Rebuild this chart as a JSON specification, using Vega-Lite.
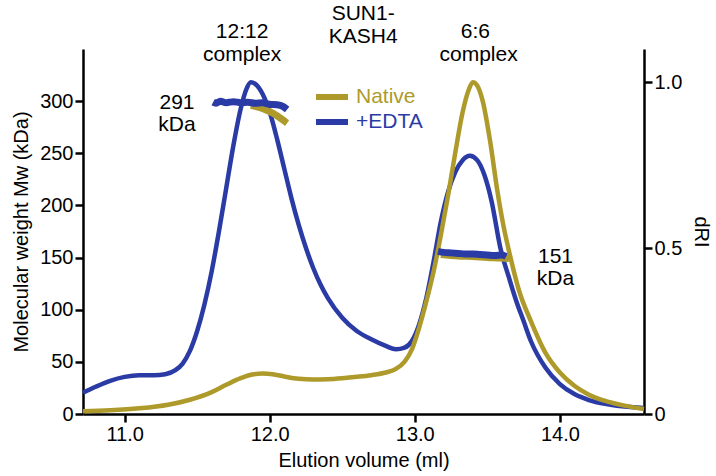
{
  "$schema": "https://vega.github.io/schema/vega-lite/v6.json",
  "width": 561,
  "height": 365,
  "autosize": {"type": "none"},
  "padding": {"left": 83, "top": 49, "right": 72, "bottom": 62},
  "config": {
    "font": "Liberation Sans",
    "view": {"stroke": null},
    "axis": {
      "grid": false,
      "domainColor": "black",
      "domainWidth": 2.5,
      "tickColor": "black",
      "tickWidth": 2.5,
      "tickSize": 8,
      "labelFontSize": 20,
      "titleFontSize": 20,
      "labelColor": "black",
      "titleColor": "black",
      "titleFontWeight": "normal",
      "labelPadding": 2,
      "labelFont": "Liberation Sans",
      "titleFont": "Liberation Sans"
    }
  },
  "datasets": {
    "dri": [
      {"vol": 10.713, "dri": 0.064, "series": "+EDTA"},
      {"vol": 10.8, "dri": 0.082, "series": "+EDTA"},
      {"vol": 10.9, "dri": 0.1, "series": "+EDTA"},
      {"vol": 11.0, "dri": 0.112, "series": "+EDTA"},
      {"vol": 11.1, "dri": 0.117, "series": "+EDTA"},
      {"vol": 11.2, "dri": 0.117, "series": "+EDTA"},
      {"vol": 11.28, "dri": 0.12, "series": "+EDTA"},
      {"vol": 11.35, "dri": 0.132, "series": "+EDTA"},
      {"vol": 11.4, "dri": 0.152, "series": "+EDTA"},
      {"vol": 11.45, "dri": 0.19, "series": "+EDTA"},
      {"vol": 11.5, "dri": 0.25, "series": "+EDTA"},
      {"vol": 11.55, "dri": 0.33, "series": "+EDTA"},
      {"vol": 11.6, "dri": 0.43, "series": "+EDTA"},
      {"vol": 11.65, "dri": 0.55, "series": "+EDTA"},
      {"vol": 11.7, "dri": 0.68, "series": "+EDTA"},
      {"vol": 11.75, "dri": 0.81, "series": "+EDTA"},
      {"vol": 11.8, "dri": 0.92, "series": "+EDTA"},
      {"vol": 11.84, "dri": 0.98, "series": "+EDTA"},
      {"vol": 11.87, "dri": 1.0, "series": "+EDTA"},
      {"vol": 11.9, "dri": 0.995, "series": "+EDTA"},
      {"vol": 11.95, "dri": 0.965, "series": "+EDTA"},
      {"vol": 12.0, "dri": 0.91, "series": "+EDTA"},
      {"vol": 12.05, "dri": 0.83, "series": "+EDTA"},
      {"vol": 12.1, "dri": 0.74, "series": "+EDTA"},
      {"vol": 12.15, "dri": 0.65, "series": "+EDTA"},
      {"vol": 12.2, "dri": 0.57, "series": "+EDTA"},
      {"vol": 12.25, "dri": 0.5, "series": "+EDTA"},
      {"vol": 12.3, "dri": 0.44, "series": "+EDTA"},
      {"vol": 12.35, "dri": 0.39, "series": "+EDTA"},
      {"vol": 12.4, "dri": 0.35, "series": "+EDTA"},
      {"vol": 12.5, "dri": 0.29, "series": "+EDTA"},
      {"vol": 12.6, "dri": 0.25, "series": "+EDTA"},
      {"vol": 12.7, "dri": 0.225, "series": "+EDTA"},
      {"vol": 12.8, "dri": 0.205, "series": "+EDTA"},
      {"vol": 12.87, "dri": 0.195, "series": "+EDTA"},
      {"vol": 12.93, "dri": 0.2, "series": "+EDTA"},
      {"vol": 12.98, "dri": 0.22, "series": "+EDTA"},
      {"vol": 13.03, "dri": 0.27, "series": "+EDTA"},
      {"vol": 13.08, "dri": 0.35, "series": "+EDTA"},
      {"vol": 13.13, "dri": 0.46, "series": "+EDTA"},
      {"vol": 13.18, "dri": 0.58, "series": "+EDTA"},
      {"vol": 13.23, "dri": 0.67, "series": "+EDTA"},
      {"vol": 13.28, "dri": 0.73, "series": "+EDTA"},
      {"vol": 13.33, "dri": 0.765, "series": "+EDTA"},
      {"vol": 13.38, "dri": 0.778, "series": "+EDTA"},
      {"vol": 13.43, "dri": 0.765, "series": "+EDTA"},
      {"vol": 13.48, "dri": 0.72, "series": "+EDTA"},
      {"vol": 13.53, "dri": 0.64, "series": "+EDTA"},
      {"vol": 13.59, "dri": 0.5, "series": "+EDTA"},
      {"vol": 13.65, "dri": 0.41, "series": "+EDTA"},
      {"vol": 13.7, "dri": 0.34, "series": "+EDTA"},
      {"vol": 13.75, "dri": 0.28, "series": "+EDTA"},
      {"vol": 13.8, "dri": 0.22, "series": "+EDTA"},
      {"vol": 13.9, "dri": 0.14, "series": "+EDTA"},
      {"vol": 14.0, "dri": 0.09, "series": "+EDTA"},
      {"vol": 14.1, "dri": 0.06, "series": "+EDTA"},
      {"vol": 14.2, "dri": 0.042, "series": "+EDTA"},
      {"vol": 14.35, "dri": 0.028, "series": "+EDTA"},
      {"vol": 14.58, "dri": 0.018, "series": "+EDTA"},
      {"vol": 10.713, "dri": 0.008, "series": "Native"},
      {"vol": 10.9, "dri": 0.011, "series": "Native"},
      {"vol": 11.1, "dri": 0.017, "series": "Native"},
      {"vol": 11.3, "dri": 0.028, "series": "Native"},
      {"vol": 11.45, "dri": 0.043, "series": "Native"},
      {"vol": 11.6, "dri": 0.066, "series": "Native"},
      {"vol": 11.7, "dri": 0.088, "series": "Native"},
      {"vol": 11.8, "dri": 0.108, "series": "Native"},
      {"vol": 11.88, "dri": 0.119, "series": "Native"},
      {"vol": 11.95, "dri": 0.122, "series": "Native"},
      {"vol": 12.02, "dri": 0.12, "series": "Native"},
      {"vol": 12.1, "dri": 0.113, "series": "Native"},
      {"vol": 12.2, "dri": 0.106, "series": "Native"},
      {"vol": 12.3, "dri": 0.104, "series": "Native"},
      {"vol": 12.4, "dri": 0.105, "series": "Native"},
      {"vol": 12.5, "dri": 0.108, "series": "Native"},
      {"vol": 12.6, "dri": 0.112, "series": "Native"},
      {"vol": 12.7, "dri": 0.117, "series": "Native"},
      {"vol": 12.8, "dri": 0.125, "series": "Native"},
      {"vol": 12.87, "dri": 0.136, "series": "Native"},
      {"vol": 12.93, "dri": 0.158, "series": "Native"},
      {"vol": 12.98, "dri": 0.195, "series": "Native"},
      {"vol": 13.03, "dri": 0.26, "series": "Native"},
      {"vol": 13.08, "dri": 0.34, "series": "Native"},
      {"vol": 13.13, "dri": 0.43, "series": "Native"},
      {"vol": 13.18, "dri": 0.54, "series": "Native"},
      {"vol": 13.23, "dri": 0.66, "series": "Native"},
      {"vol": 13.28, "dri": 0.79, "series": "Native"},
      {"vol": 13.33, "dri": 0.91, "series": "Native"},
      {"vol": 13.37, "dri": 0.975, "series": "Native"},
      {"vol": 13.4, "dri": 1.0, "series": "Native"},
      {"vol": 13.43, "dri": 0.99, "series": "Native"},
      {"vol": 13.47, "dri": 0.94, "series": "Native"},
      {"vol": 13.52, "dri": 0.82, "series": "Native"},
      {"vol": 13.57, "dri": 0.67, "series": "Native"},
      {"vol": 13.61, "dri": 0.57, "series": "Native"},
      {"vol": 13.65, "dri": 0.49, "series": "Native"},
      {"vol": 13.72, "dri": 0.37, "series": "Native"},
      {"vol": 13.8, "dri": 0.28, "series": "Native"},
      {"vol": 13.9, "dri": 0.185, "series": "Native"},
      {"vol": 14.0, "dri": 0.125, "series": "Native"},
      {"vol": 14.1, "dri": 0.085, "series": "Native"},
      {"vol": 14.2, "dri": 0.058, "series": "Native"},
      {"vol": 14.35, "dri": 0.035, "series": "Native"},
      {"vol": 14.58, "dri": 0.015, "series": "Native"}
    ],
    "mw": [
      {"vol": 11.87, "mw": 296, "series": "Native", "peak": "a"},
      {"vol": 11.95, "mw": 293, "series": "Native", "peak": "a"},
      {"vol": 12.0, "mw": 290, "series": "Native", "peak": "a"},
      {"vol": 12.05, "mw": 286, "series": "Native", "peak": "a"},
      {"vol": 12.1, "mw": 281, "series": "Native", "peak": "a"},
      {"vol": 12.12, "mw": 279, "series": "Native", "peak": "a"},
      {"vol": 13.18, "mw": 153, "series": "Native", "peak": "b"},
      {"vol": 13.3, "mw": 151.5, "series": "Native", "peak": "b"},
      {"vol": 13.4, "mw": 151, "series": "Native", "peak": "b"},
      {"vol": 13.5, "mw": 150, "series": "Native", "peak": "b"},
      {"vol": 13.6, "mw": 149.5, "series": "Native", "peak": "b"},
      {"vol": 13.65, "mw": 149, "series": "Native", "peak": "b"},
      {"vol": 11.61, "mw": 299, "series": "+EDTA", "peak": "a"},
      {"vol": 11.63, "mw": 298, "series": "+EDTA", "peak": "a"},
      {"vol": 11.66, "mw": 300, "series": "+EDTA", "peak": "a"},
      {"vol": 11.7, "mw": 298.5, "series": "+EDTA", "peak": "a"},
      {"vol": 11.75, "mw": 299.5, "series": "+EDTA", "peak": "a"},
      {"vol": 11.8, "mw": 298.5, "series": "+EDTA", "peak": "a"},
      {"vol": 11.85, "mw": 299, "series": "+EDTA", "peak": "a"},
      {"vol": 11.9, "mw": 298, "series": "+EDTA", "peak": "a"},
      {"vol": 11.95, "mw": 298.5, "series": "+EDTA", "peak": "a"},
      {"vol": 12.0, "mw": 297, "series": "+EDTA", "peak": "a"},
      {"vol": 12.05, "mw": 296.5, "series": "+EDTA", "peak": "a"},
      {"vol": 12.09, "mw": 295, "series": "+EDTA", "peak": "a"},
      {"vol": 12.12, "mw": 292, "series": "+EDTA", "peak": "a"},
      {"vol": 13.16, "mw": 156, "series": "+EDTA", "peak": "b"},
      {"vol": 13.2, "mw": 155, "series": "+EDTA", "peak": "b"},
      {"vol": 13.25, "mw": 154.5, "series": "+EDTA", "peak": "b"},
      {"vol": 13.3, "mw": 154, "series": "+EDTA", "peak": "b"},
      {"vol": 13.35, "mw": 153.5, "series": "+EDTA", "peak": "b"},
      {"vol": 13.4, "mw": 153.5, "series": "+EDTA", "peak": "b"},
      {"vol": 13.45, "mw": 153, "series": "+EDTA", "peak": "b"},
      {"vol": 13.5, "mw": 152.5, "series": "+EDTA", "peak": "b"},
      {"vol": 13.55, "mw": 152, "series": "+EDTA", "peak": "b"},
      {"vol": 13.6, "mw": 152.5, "series": "+EDTA", "peak": "b"},
      {"vol": 13.63, "mw": 151, "series": "+EDTA", "peak": "b"}
    ],
    "notes": [
      {"vol": 11.81, "mw": 360.2, "label": "12:12"},
      {"vol": 11.81, "mw": 338.4, "label": "complex"},
      {"vol": 12.644, "mw": 377.8, "label": "SUN1-"},
      {"vol": 12.644, "mw": 355.4, "label": "KASH4"},
      {"vol": 13.418, "mw": 360.2, "label": "6:6"},
      {"vol": 13.44, "mw": 338.4, "label": "complex"},
      {"vol": 11.361, "mw": 292.1, "label": "291"},
      {"vol": 11.361, "mw": 271.6, "label": "kDa"},
      {"vol": 13.97, "mw": 144.5, "label": "151"},
      {"vol": 13.97, "mw": 123.7, "label": "kDa"}
    ]
  },
  "layer": [
    {
      "data": {"name": "dri"},
      "mark": {"type": "line", "strokeWidth": 4.5, "interpolate": "monotone"},
      "encoding": {
        "x": {"field": "vol", "type": "quantitative", "title": "Elution volume (ml)",
              "scale": {"domain": [10.713, 14.58], "nice": false, "zero": false},
              "axis": {"values": [11, 12, 13, 14], "format": ".1f", "titlePadding": 6}},
        "y": {"field": "dri", "type": "quantitative", "title": "dRI",
              "scale": {"domain": [0, 1.1], "nice": false},
              "axis": {"orient": "right", "values": [0, 0.5, 1.0], "labelExpr": "datum.value == 0 ? '0' : format(datum.value, '.1f')", "titlePadding": 9}},
        "color": {"field": "series", "type": "nominal",
                  "scale": {"domain": ["Native", "+EDTA"], "range": ["#ad9a2b", "#2b3ba5"]},
                  "legend": {"title": null, "orient": "none", "legendX": 230, "legendY": 37,
                             "symbolType": "M-1,0H3", "symbolSize": 256, "symbolStrokeWidth": 6,
                             "labelFontSize": 21, "labelOffset": 21, "rowPadding": 1, "padding": 0,
                             "labelFont": "Liberation Sans",
                             "encode": {"labels": {"update": {"fill": {"signal": "datum.value === 'Native' ? '#ad9a2b' : '#2b3ba5'"}}}}}},
        "order": {"field": "vol", "type": "quantitative"}
      }
    },
    {
      "layer": [
        {
          "data": {"name": "mw"},
          "mark": {"type": "line", "strokeWidth": 7, "interpolate": "monotone"},
          "encoding": {
            "x": {"field": "vol", "type": "quantitative", "title": "Elution volume (ml)",
                  "scale": {"domain": [10.713, 14.58], "nice": false, "zero": false},
                  "axis": {"values": [11, 12, 13, 14], "format": ".1f", "titlePadding": 6}},
            "y": {"field": "mw", "type": "quantitative", "title": "Molecular weight Mw (kDa)",
                  "scale": {"domain": [0, 350], "nice": false},
                  "axis": {"orient": "left", "values": [0, 50, 100, 150, 200, 250, 300], "format": "d", "titlePadding": 8}},
            "color": {"field": "series", "type": "nominal",
                      "scale": {"domain": ["Native", "+EDTA"], "range": ["#ad9a2b", "#2b3ba5"]},
                      "legend": {"title": null, "orient": "none", "legendX": 230, "legendY": 37,
                                 "symbolType": "M-1,0H3", "symbolSize": 256, "symbolStrokeWidth": 6,
                                 "labelFontSize": 21, "labelOffset": 21, "rowPadding": 1, "padding": 0,
                                 "labelFont": "Liberation Sans",
                                 "encode": {"labels": {"update": {"fill": {"signal": "datum.value === 'Native' ? '#ad9a2b' : '#2b3ba5'"}}}}}},
            "detail": {"field": "peak"},
            "order": {"field": "vol", "type": "quantitative"}
          }
        },
        {
          "data": {"name": "notes"},
          "mark": {"type": "text", "fontSize": 21, "align": "center", "baseline": "alphabetic", "color": "black", "font": "Liberation Sans"},
          "encoding": {
            "x": {"field": "vol", "type": "quantitative", "title": "Elution volume (ml)",
                  "scale": {"domain": [10.713, 14.58], "nice": false, "zero": false},
                  "axis": {"values": [11, 12, 13, 14], "format": ".1f", "titlePadding": 6}},
            "y": {"field": "mw", "type": "quantitative", "title": "Molecular weight Mw (kDa)",
                  "scale": {"domain": [0, 350], "nice": false},
                  "axis": {"orient": "left", "values": [0, 50, 100, 150, 200, 250, 300], "format": "d", "titlePadding": 8}},
            "text": {"field": "label"}
          }
        }
      ]
    }
  ],
  "resolve": {"scale": {"y": "independent"}}
}
